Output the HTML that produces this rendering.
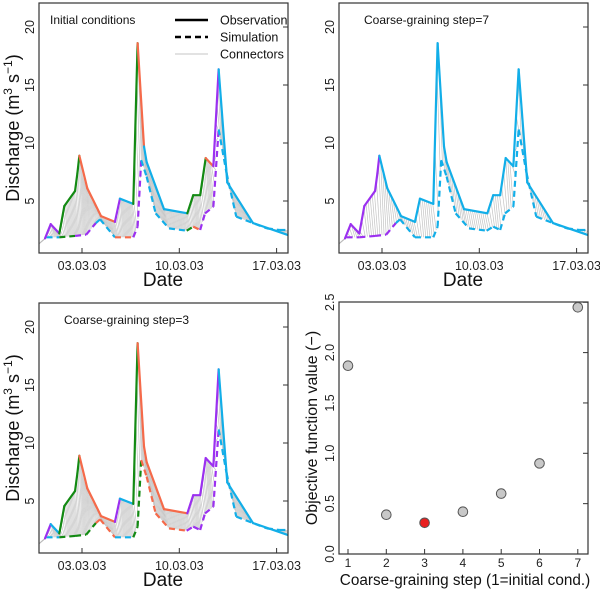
<!DOCTYPE html>
<html><head><meta charset="utf-8"><style>
html,body{margin:0;padding:0;background:#fff;}
svg{display:block;font-family:"Liberation Sans",Arial,sans-serif;}
</style></head><body>
<svg id="chart" width="600" height="590" viewBox="0 0 600 590"></svg>
<script>
// Time series data (days relative to 03.03.03)
const obsDays = [-3.1,-2.66,-2.25,-1.63,-1.27,-0.5,-0.33,-0.19,0.38,1.37,2.37,2.73,3.69,4.0,4.46,4.65,5.9,7.58,8.0,8.5,8.9,9.45,9.83,10.45,12.3,14.8];
const obsVals = [1.3,1.78,3.0,2.2,4.57,5.86,7.4,8.9,6.1,3.7,3.2,5.2,4.75,18.6,9.7,8.36,4.3,3.94,5.5,5.5,8.7,8.0,16.35,6.6,3.1,2.07];
const simDays = [-3.1,-2.55,-1.63,-0.5,0.3,1.0,1.3,2.37,3.69,4.0,4.26,4.65,5.3,6.26,7.53,8.0,8.5,8.85,9.45,9.83,10.4,11.1,13.3,14.2,14.8];
const simVals = [1.3,1.87,1.87,1.99,2.1,3.1,3.42,1.87,1.87,2.79,8.53,7.1,3.93,2.64,2.44,2.79,2.5,3.93,4.5,11.17,7.4,3.65,2.64,2.5,2.5];
const xTickLabels = ["03.03.03","10.03.03","17.03.03"];
const xTickDays = [0,7,14];
const yTicks = [5,10,15,20];
// colour per interval, per panel
const P="#9b30f0",G="#138a13",O="#f56a4a",B="#12aee8",N="#bbbbbb";
const colors1 = [N,P,P,G,G,G,G,O,O,O,P,B,G,O,B,B,B,G,G,G,O,P,B,B,B];
const colors2 = [N,P,P,P,P,P,P,B,B,B,B,B,B,B,B,B,B,B,B,B,B,B,B,B,B];
const colors3 = [N,P,B,G,G,G,G,O,O,O,P,B,G,O,O,O,O,P,P,P,P,P,B,B,B];
const simColors1 = [N,B,G,P,P,B,B,O,P,P,B,B,B,B,G,O,P,P,P,B,B,B,B,B];
const simColors2 = [N,P,P,P,P,B,B,B,B,B,B,B,B,B,B,B,B,B,B,B,B,B,B,B];
const simColors3 = [N,B,G,G,G,O,O,B,G,G,O,O,O,O,P,P,P,P,P,B,B,B,B,B];
// objective function panel
const steps = [1,2,3,4,5,6,7];
const objVals = [1.87,0.39,0.31,0.42,0.60,0.90,2.45];
const bestStep = 3;

const svg=document.getElementById('chart');
const NS="http://www.w3.org/2000/svg";
function mk(tag,attrs,parent){const e=document.createElementNS(NS,tag);for(const k in attrs)e.setAttribute(k,attrs[k]);(parent||svg).appendChild(e);return e;}
function interp(ds,vs,t){if(t<=ds[0])return vs[0];for(let i=1;i<ds.length;i++){if(t<=ds[i]){const f=(t-ds[i-1])/(ds[i]-ds[i-1]);return vs[i-1]+f*(vs[i]-vs[i-1]);}}return vs[vs.length-1];}

function panel(ox,oy,cols,scols,title,step,showY,showLegend,name){
  const g=mk('g',{});
  
  
  const L=ox+39,R=ox+288,T=oy+3,Bt=oy+253;
  const xs=d=>ox+82+13.9*d, ys=v=>oy+259-11.6*v;
  const clip='c'+ox+'_'+oy;
  const cp=mk('clipPath',{id:clip},g);mk('rect',{x:L,y:T,width:R-L,height:Bt-T},cp);
  const plot=mk('g',{'clip-path':'url(#'+clip+')'},g);
  const cg=mk('g',{stroke:'#c4c4c4','stroke-width':0.7},plot);
  
  
  for(let t=-3.1;t<=14.8;t+=step){
    const lag=0.25;
    mk('line',{x1:xs(t),y1:ys(interp(obsDays,obsVals,t)),x2:xs(t+lag),y2:ys(interp(simDays,simVals,t+lag))},cg);
  }
  for(let i=0;i<simDays.length-1;i++){
    const c=scols[i];
    const s=mk('line',{x1:xs(simDays[i]),y1:ys(simVals[i]),x2:xs(simDays[i+1]),y2:ys(simVals[i+1]),stroke:c,'stroke-width':c===N?1:2.2,'stroke-dasharray':c===N?'':'6,4'},plot);
    
    
  }
  for(let i=0;i<obsDays.length-1;i++){
    const c=cols[i];
    const s=mk('line',{x1:xs(obsDays[i]),y1:ys(obsVals[i]),x2:xs(obsDays[i+1]),y2:ys(obsVals[i+1]),stroke:c,'stroke-width':c===N?1:2.2,'stroke-linecap':'round'},plot);
    
    
  }
  mk('rect',{x:L,y:T,width:R-L,height:Bt-T,fill:'none',stroke:'#333','stroke-width':1.2},g);
  yTicks.forEach(v=>{
    mk('line',{x1:R-5,x2:R,y1:ys(v),y2:ys(v),stroke:'#333'},g);
    const t=mk('text',{x:ox+34,y:ys(v),'font-size':12.5,'text-anchor':'middle',transform:`rotate(-90 ${ox+34} ${ys(v)})`,fill:'#222'},g);
    t.textContent=v;
    
    
  });
  xTickDays.forEach((d,i)=>{
    mk('line',{x1:xs(d),x2:xs(d),y1:Bt,y2:Bt-5,stroke:'#333'},g);
    const t=mk('text',{x:xs(d),y:oy+270,'font-size':12.5,'text-anchor':'middle',fill:'#222'},g);
    t.textContent=xTickLabels[i];
    
    
  });
  const xl=mk('text',{x:ox+163,y:oy+286,'font-size':19,'text-anchor':'middle',fill:'#111'},g);
  xl.textContent='Date';
  
  
  if(showY){
    const yl=mk('text',{x:ox+19,y:oy+128,'font-size':18,'text-anchor':'middle',transform:`rotate(-90 ${ox+19} ${oy+128})`,fill:'#111'},g);
    yl.innerHTML='Discharge (m<tspan font-size="12" dy="-7">3</tspan><tspan dy="7"> s</tspan><tspan font-size="12" dy="-7">−1</tspan><tspan dy="7">)</tspan>';
    
    
  }
  const tt=mk('text',{x:showLegend?ox+50:ox+64,y:oy+24,'font-size':12,fill:'#111'},g);
  tt.textContent=title;
  
  
  if(showLegend){
    const lg=mk('g',{},g);
    
    
    [['Observation','',2.4,'#000'],['Simulation','6,4',2.4,'#000'],['Connectors','',1,'#c4c4c4']].forEach((e,i)=>{
      const y=oy+20+i*17;
      mk('line',{x1:ox+175,x2:ox+208,y1:y,y2:y,stroke:e[3],'stroke-width':e[2],'stroke-dasharray':e[1]},lg);
      const t=mk('text',{x:ox+220,y:y+4.5,'font-size':12.5,fill:'#111'},lg);
      t.textContent=e[0];
      
      
    });
  }
}
panel(0,0,colors1,simColors1,'Initial conditions',0.08,true,true,'panel-initial-conditions');
panel(300,0,colors2,simColors2,'Coarse-graining step=7',0.15,false,false,'panel-step-7');
panel(0,300,colors3,simColors3,'Coarse-graining step=3',0.08,true,false,'panel-step-3');

(function(){
  const g=mk('g',{});
  
  
  const L=339,R=588,T=302,Bt=554;
  const xs=s=>348+38.3*(s-1), ys=v=>554-100.7*v;
  mk('rect',{x:L,y:T,width:R-L,height:Bt-T,fill:'none',stroke:'#333','stroke-width':1.2},g);
  [0,0.5,1,1.5,2,2.5].forEach(v=>{
    mk('line',{x1:R-5,x2:R,y1:ys(v),y2:ys(v),stroke:'#333'},g);
    const t=mk('text',{x:334,y:ys(v),'font-size':12.5,'text-anchor':'middle',transform:`rotate(-90 334 ${ys(v)})`,fill:'#222'},g);
    t.textContent=v.toFixed(1);
    
    
  });
  steps.forEach(s=>{
    mk('line',{x1:xs(s),x2:xs(s),y1:Bt,y2:Bt-5,stroke:'#333'},g);
    const t=mk('text',{x:xs(s),y:567,'font-size':12,'text-anchor':'middle',fill:'#222'},g);
    t.textContent=s;
    
    
  });
  steps.forEach((s,i)=>{
    const c=mk('circle',{cx:xs(s),cy:ys(objVals[i]),r:4.8,fill:s===bestStep?'#e82020':'#c8c8c8',stroke:'#555','stroke-width':1},g);
    
    
  });
  const xl=mk('text',{x:465,y:585,'font-size':15.3,'text-anchor':'middle',fill:'#111'},g);
  xl.textContent='Coarse-graining step (1=initial cond.)';
  
  
  const yl=mk('text',{x:317,y:428,'font-size':16,'text-anchor':'middle',transform:'rotate(-90 317 428)',fill:'#111'},g);
  yl.textContent='Objective function value (−)';
  
  
})();
</script>
</body></html>
